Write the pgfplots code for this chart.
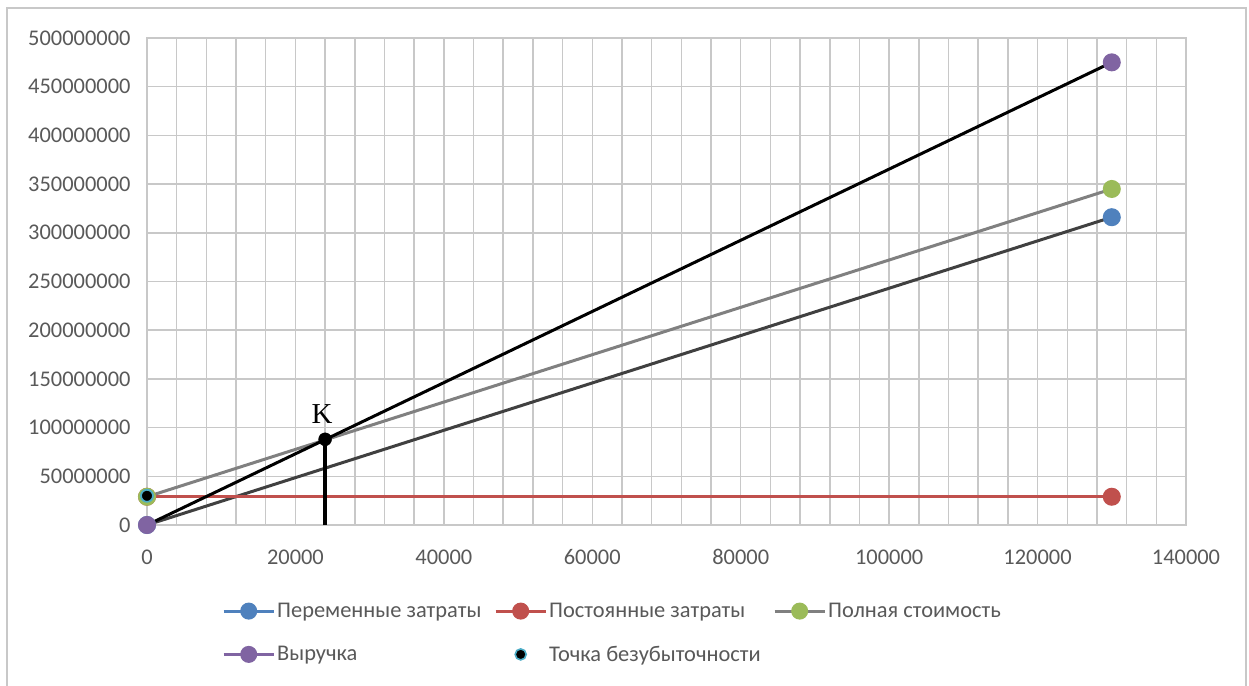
\documentclass[border=0pt]{standalone}
\usepackage{fontspec}
\setmainfont{Carlito}
\newfontfamily\serifK{Liberation Serif}
\usepackage{pgfplots}
\pgfplotsset{compat=1.18}
\definecolor{vblue}{HTML}{4F81BD}
\definecolor{fred}{HTML}{C0504D}
\definecolor{tgreen}{HTML}{9BBB59}
\definecolor{rpurple}{HTML}{8064A2}
\definecolor{bteal}{HTML}{4BACC6}
\definecolor{txt}{HTML}{595959}
\definecolor{gridc}{HTML}{C8C8C8}
\definecolor{framec}{HTML}{C8C8C8}
\definecolor{dgray}{HTML}{404040}
\definecolor{mgray}{HTML}{808080}
\begin{document}
\begin{tikzpicture}
\begin{axis}[
  name=ax,
  scale only axis, width=1039bp, height=487bp,
  xmin=0, xmax=140000, ymin=0, ymax=500000000,
  xtick={0,20000,...,140000},
  minor x tick num=4,
  ytick={0,50000000,...,500000000},
  xmajorgrids, xminorgrids, ymajorgrids,
  grid style={gridc, line width=1.5bp},
  minor grid style={gridc, line width=1.5bp},
  axis line style={gridc, line width=1.5bp},
  major tick length=0pt, minor tick length=0pt,
  scaled ticks=false,
  /pgf/number format/fixed,
  /pgf/number format/1000 sep={},
  /pgf/number format/assume math mode=true,
  ticklabel style={font=\fontsize{22.5}{26}\selectfont, text=txt},
  yticklabel style={xshift=-13bp},
  xticklabel style={yshift=-21bp},
  legend style={draw=none, at={(0.0722,-0.156)}, anchor=north west, legend columns=3,
    font=\fontsize{22.5}{26}\selectfont, text=txt,
    row sep=23bp, inner sep=0pt},
  legend cell align=left,
  legend image code/.code={\draw[mark repeat=2,mark phase=2] plot coordinates {(0bp,0bp) (25bp,0bp) (50bp,0bp)};},
  clip=false,
]
% Variable costs
\addplot[dgray, line width=3bp, mark=*, mark size=7.5bp, mark options={draw=vblue, fill=vblue}, forget plot]
  coordinates {(0,0) (130000,316000000)};
% Fixed costs
\addplot[fred, line width=3bp, mark=*, mark size=7.5bp, mark options={draw=fred, fill=fred}, forget plot]
  coordinates {(0,29000000) (130000,29000000)};
% Total cost
\addplot[mgray, line width=3bp, mark=*, mark size=7.5bp, mark options={draw=tgreen, fill=tgreen}, forget plot]
  coordinates {(0,29000000) (130000,345000000)};
% Revenue
\addplot[black, line width=3bp, mark=*, mark size=7.5bp, mark options={draw=rpurple, fill=rpurple}, forget plot]
  coordinates {(0,0) (130000,475000000)};
% Break-even series
\addplot[only marks, mark=*, mark size=6bp, mark options={draw=bteal, fill=black, line width=1.8bp}, forget plot]
  coordinates {(0,30000000)};
% Vertical line at K
\addplot[black, line width=4.5bp, forget plot] coordinates {(24000,0) (24000,88000000)};
\addplot[only marks, mark=*, mark size=6.5bp, mark options={draw=black, fill=black}, forget plot]
  coordinates {(24000,88000000)};
\node[font=\serifK\fontsize{29}{32}\selectfont, anchor=south, inner sep=0pt] at (axis cs:23600,88000000) [yshift=16bp] {K};
% legend
\addlegendimage{vblue, line width=3bp, mark=*, mark size=7bp, mark options={fill=vblue}}
\addlegendentry{\makebox[215bp][l]{Переменные затраты}}
\addlegendimage{fred, line width=3bp, mark=*, mark size=7bp, mark options={fill=fred}}
\addlegendentry{\makebox[222bp][l]{Постоянные затраты}}
\addlegendimage{mgray, line width=3bp, mark=*, mark size=7bp, mark options={draw=tgreen, fill=tgreen}}
\addlegendentry{Полная стоимость}
\addlegendimage{rpurple, line width=3bp, mark=*, mark size=7bp, mark options={fill=rpurple}}
\addlegendentry{Выручка}
\addlegendimage{only marks, mark=*, mark size=5.5bp, mark options={draw=bteal, fill=black, line width=1.6bp}}
\addlegendentry{Точка безубыточности}
\end{axis}
\useasboundingbox ([xshift=-147bp, yshift=525bp]ax.south west) rectangle ([xshift=1102bp, yshift=-161bp]ax.south west);
\draw[framec, line width=2bp] ([xshift=-140bp, yshift=-165bp]ax.south west) -- ([xshift=-140bp, yshift=517bp]ax.south west) -- ([xshift=1099bp, yshift=517bp]ax.south west) -- ([xshift=1099bp, yshift=-165bp]ax.south west);
\end{tikzpicture}
\end{document}
